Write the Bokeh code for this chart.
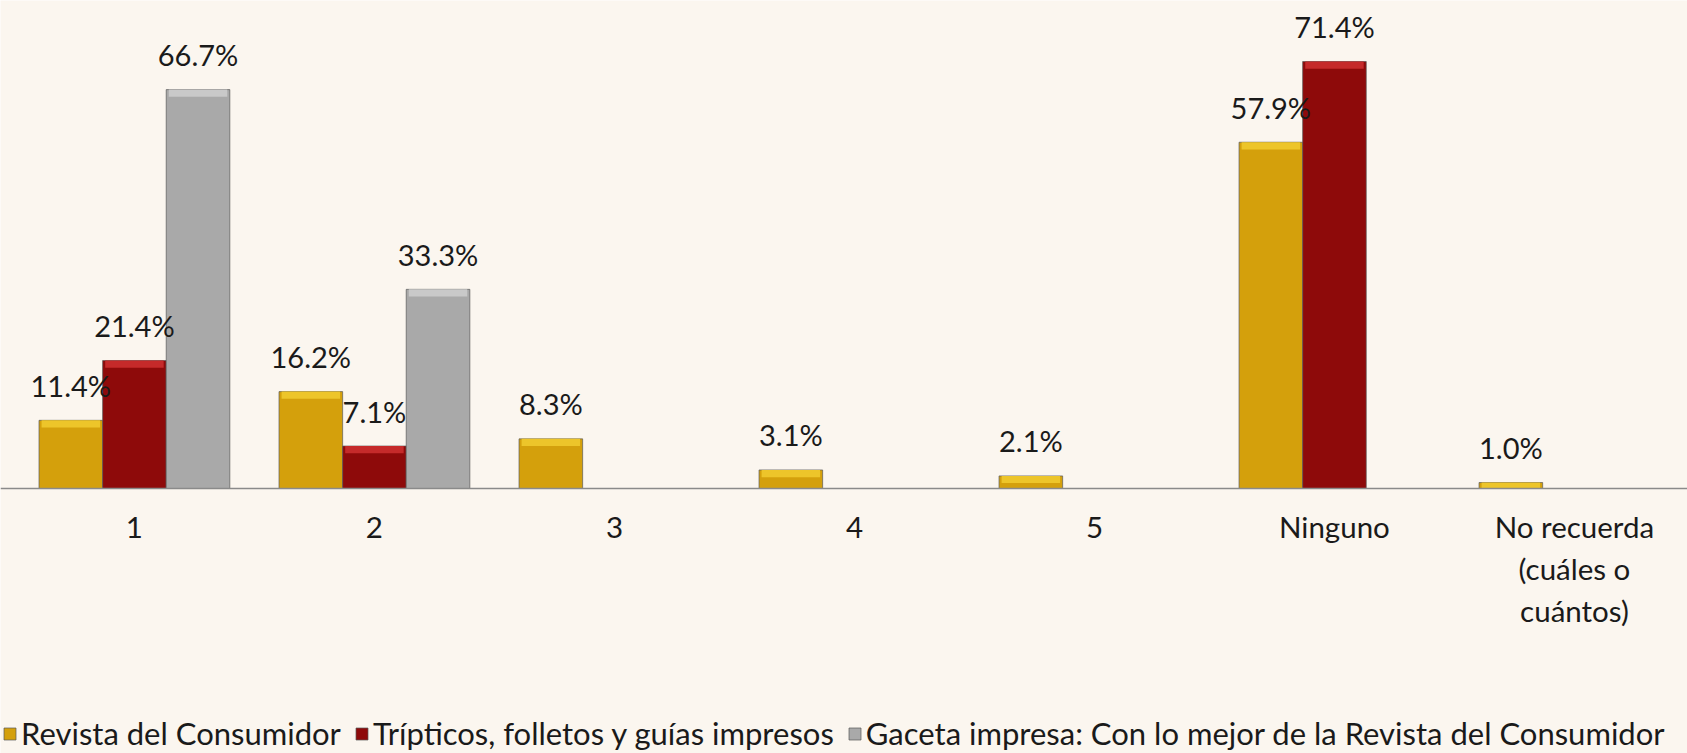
from bokeh.plotting import figure
from bokeh.models import ColumnDataSource, Range1d, FixedTicker, LabelSet, Legend, LegendItem
from bokeh.core.properties import value
from bokeh.embed import file_html
from bokeh.resources import INLINE

categories = ["1", "2", "3", "4", "5", "Ninguno", "No recuerda\n(cuáles o\ncuántos)"]
series_names = [
    "Revista del Consumidor",
    "Trípticos, folletos y guías impresos",
    "Gaceta impresa: Con lo mejor de la Revista del Consumidor",
]
revista = [11.4, 16.2, 8.3, 3.1, 2.1, 57.9, 1.0]
tripticos = [21.4, 7.1, None, None, None, 71.4, None]
gaceta = [66.7, 33.3, None, None, None, None, None]

series = [revista, tripticos, gaceta]
fills = ["#D4A00C", "#8E0A0A", "#A9A9A9"]
bevels = ["#EDC52A", "#C52A2A", "#C9C9C9"]
offsets = [-0.265, 0.0, 0.265]
bar_w = 0.265
FONT = "Lato"

p = figure(width=1687, height=753, output_backend="svg", toolbar_location=None,
           x_range=Range1d(-0.558, 6.471), y_range=Range1d(-44.31, 81.6),
           min_border_left=0, min_border_right=0, min_border_top=0, min_border_bottom=0)
p.background_fill_color = "#FBF6EF"
p.border_fill_color = "#FBF6EF"
p.outline_line_color = None
p.xgrid.visible = False
p.ygrid.visible = False
p.yaxis.visible = False

renderers = []
for vals, fc, bc, off in zip(series, fills, bevels, offsets):
    xs = [i + off for i, v in enumerate(vals) if v is not None]
    ys = [v for v in vals if v is not None]
    labels = [f"{v:.1f}%" for v in ys]
    src = ColumnDataSource(dict(x=xs, top=ys, label=labels,
                                bev=[max(0.0, v - 1.2) for v in ys]))
    r = p.vbar(x="x", top="top", bottom=0, width=bar_w, source=src,
               fill_color=fc, line_color="#5a5a5a", line_alpha=0.7, line_width=1)
    p.vbar(x="x", top="top", bottom="bev", width=bar_w * 0.92, source=src,
           fill_color=bc, line_color=None)
    renderers.append(r)
    ls = LabelSet(x="x", y="top", text="label", source=src, y_offset=35,
                  text_align="center", text_baseline="middle",
                  text_font=value(FONT), text_font_size=value("29px"), text_color="#1a1a1a")
    p.add_layout(ls)

ax = p.xaxis[0]
ax.fixed_location = 0
ax.ticker = FixedTicker(ticks=list(range(len(categories))))
ax.major_label_overrides = {i: c for i, c in enumerate(categories)}
ax.major_tick_line_color = None
ax.minor_tick_line_color = None
ax.axis_line_color = "#8a8a8a"
ax.axis_line_width = 1.5
ax.major_label_standoff = 14
ax.major_label_text_font = FONT
ax.major_label_text_font_size = "29.5px"
ax.major_label_text_color = "#1a1a1a"
ax.major_label_text_line_height = 1.2

legend = Legend(items=[LegendItem(label=n, renderers=[r]) for n, r in zip(series_names, renderers)],
                orientation="horizontal", location=(2, 1),
                padding=0, margin=0, spacing=13, label_standoff=4,
                glyph_width=15, glyph_height=15,
                label_text_font=FONT, label_text_font_size="31px", label_text_color="#1a1a1a",
                border_line_color=None, background_fill_alpha=0)
p.add_layout(legend, "center")

open("out.html", "w").write(file_html(p, INLINE))
